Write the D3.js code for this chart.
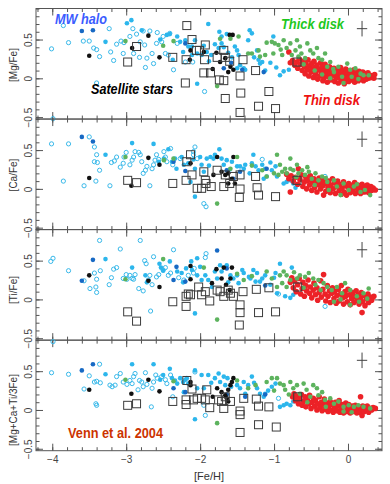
<!DOCTYPE html>
<html>
<head>
<meta charset="utf-8">
<script src="https://cdnjs.cloudflare.com/ajax/libs/d3/7.8.5/d3.min.js"></script>
<style>
  body { margin: 0; background: #fff; }
  svg { display: block; font-family: "Liberation Sans", Arial, sans-serif; }
</style>
</head>
<body>
<div id="chart"></div>
<script>
// tick values
var xMajor = [-4, -3, -2, -1, 0];
var yMajor = [-0.5, 0, 0.5];
var yLabels = ["[Mg/Fe]", "[Ca/Fe]", "[Ti/Fe]", "[Mg+Ca+Ti/3Fe]"];

// ---- [Mg/Fe] ----
var mgOpen = [[-3.85,0.68],[-4.01,0.38],[-3.78,0.46],[-3.58,0.48],[-3.50,0.48],[-3.44,0.39],[-3.40,0.37],[-3.36,0.28],[-3.23,0.64],[-3.21,0.34],[-3.17,0.23],[-3.13,0.44],[-3.07,0.48],[-3.03,0.46],[-3.04,0.32],[-2.95,0.54],[-2.91,0.64],[-2.90,0.32],[-2.86,0.57],[-2.82,0.27],[-2.81,0.47],[-2.77,0.61],[-2.75,0.43],[-2.72,0.26],[-2.74,0.14],[-2.68,0.61],[-2.65,0.32],[-2.63,0.19],[-2.59,0.45],[-2.58,0.59],[-2.52,0.47],[-2.50,0.54],[-2.47,0.32],[-2.43,0.30],[-2.41,0.58],[-2.36,0.11],[-2.31,0.45],[-2.20,0.21],[-3.40,-0.06],[-3.99,-0.52],[-2.10,0.21],[-1.94,-0.17]];
var mgCyan = [[-2.99,0.71],[-2.93,0.75],[-2.79,0.62],[-3.28,0.47],[-2.54,0.50],[-2.45,0.56],[-2.41,0.57],[-2.37,0.24],[-2.31,0.54],[-2.27,0.47],[-2.23,0.34],[-2.20,0.49],[-2.16,0.41],[-2.11,0.30],[-2.04,-0.07],[-1.89,0.70],[-1.74,0.60],[-1.71,0.54],[-1.64,0.57],[-2.07,0.49],[-2.11,0.41],[-2.04,0.32],[-1.98,0.30],[-1.91,0.34],[-1.85,0.30],[-1.75,0.39],[-1.71,0.45],[-1.53,0.41],[-1.50,0.36],[-1.48,0.30],[-1.46,0.17],[-1.41,0.13],[-1.39,0.11],[-1.50,0.13],[-1.35,0.49],[-1.30,0.58],[-1.33,0.62],[-1.23,0.36],[-1.21,0.24],[-1.19,0.19],[-1.16,0.21],[-1.12,0.10],[-1.01,0.54],[-0.92,0.04],[-0.87,0.09],[-0.80,0.11],[-1.80,0.44],[-1.68,0.40],[-1.62,0.33],[-1.57,0.27],[-1.95,0.42],[-1.88,0.22],[-1.27,0.27],[-1.05,0.20],[-0.97,0.14]];
var mgDark = [[-3.60,0.61],[-3.45,0.62],[-1.68,0.13],[-1.43,0.11],[-1.14,0.08],[-2.20,0.45],[-1.58,0.20]];
var mgBlack = [[-3.50,0.29],[-2.92,0.39],[-2.70,0.55],[-2.55,0.27],[-2.13,0.36],[-2.14,0.24],[-1.83,0.12],[-1.78,0.33],[-1.73,0.21],[-1.66,0.26],[-1.60,0.56],[-1.56,0.56],[-1.59,0.15],[-1.55,0.11],[-1.62,0.08],[-1.95,0.34]];
var mgGreen = [[-3.01,0.48],[-2.50,0.42],[-2.36,0.48],[-1.77,-0.10],[-1.73,0.51],[-1.59,0.51],[-1.48,0.54],[-1.35,0.32],[-1.30,0.32],[-1.21,0.36],[-1.19,0.28],[-1.12,0.30],[-1.10,0.46],[-1.03,0.47],[-0.99,0.45],[-1.01,0.32],[-0.94,0.43],[-0.91,0.37],[-0.89,0.30],[-0.87,0.49],[-0.83,0.39],[-0.78,0.45],[-0.76,0.30],[-0.71,0.36],[-0.69,0.49],[-0.67,0.28],[-0.65,0.41],[-0.63,0.32],[-0.58,0.26],[-0.55,0.45],[-0.51,0.36],[-0.47,0.32],[-0.42,0.39],[-0.40,0.26],[-0.35,0.24],[-0.31,0.32],[-0.28,0.15],[-0.24,0.21],[-0.19,0.08],[-0.13,0.15],[-0.08,0.02],[-0.01,0.19],[0.03,0.11],[0.10,0.13],[0.17,0.06],[0.21,0.04],[0.28,0.04],[-0.24,0.00],[-0.06,-0.06],[-0.45,0.10],[-0.35,0.05],[-0.60,0.18],[-0.20,0.12],[0.05,0.02],[0.14,-0.01]];
var mgRed = [[-0.80,0.34],[-0.78,0.20],[-0.75,0.23],[-0.72,0.17],[-0.69,0.21],[-0.68,0.13],[-0.66,0.25],[-0.64,0.18],[-0.62,0.10],[-0.61,0.22],[-0.59,0.15],[-0.58,0.06],[-0.57,0.20],[-0.55,0.11],[-0.54,0.24],[-0.53,0.03],[-0.52,0.16],[-0.50,0.08],[-0.49,0.19],[-0.48,0.12],[-0.47,0.01],[-0.46,0.22],[-0.45,0.14],[-0.44,0.05],[-0.43,0.09],[-0.42,0.17],[-0.41,-0.01],[-0.39,0.12],[-0.38,0.03],[-0.37,0.20],[-0.36,0.07],[-0.35,0.15],[-0.34,-0.03],[-0.33,0.10],[-0.32,0.01],[-0.31,0.18],[-0.30,0.05],[-0.29,0.12],[-0.28,-0.05],[-0.27,0.08],[-0.26,0.02],[-0.25,0.15],[-0.24,0.06],[-0.23,-0.02],[-0.22,0.10],[-0.21,0.04],[-0.19,0.13],[-0.18,-0.04],[-0.17,0.07],[-0.16,0.01],[-0.15,0.11],[-0.14,0.04],[-0.13,-0.06],[-0.12,0.08],[-0.11,0.00],[-0.10,0.14],[-0.09,0.05],[-0.08,-0.03],[-0.07,0.09],[-0.06,0.02],[-0.05,-0.07],[-0.04,0.06],[-0.03,0.12],[-0.02,-0.01],[-0.01,0.04],[0.00,0.08],[0.01,-0.04],[0.02,0.02],[0.03,0.10],[0.04,0.05],[0.05,-0.02],[0.06,0.07],[0.07,0.01],[0.08,0.11],[0.09,-0.05],[0.10,0.04],[0.11,0.08],[0.12,0.00],[0.13,0.06],[0.14,-0.03],[0.15,0.09],[0.16,0.03],[0.17,-0.01],[0.18,0.06],[0.19,0.02],[0.20,0.08],[0.21,-0.03],[0.22,0.04],[0.23,0.01],[0.24,0.06],[0.25,-0.01],[0.26,0.03],[0.27,0.07],[0.28,0.00],[0.30,0.04],[0.31,0.01],[0.33,0.03],[0.35,0.00],[0.36,0.05]];
var mgSq = [[-2.98,0.21],[-2.86,0.41],[-2.37,0.27],[-2.18,0.68],[-2.11,0.50],[-2.19,0.24],[-2.05,0.36],[-2.20,-0.06],[-2.01,0.36],[-1.93,0.43],[-1.94,0.24],[-1.95,0.07],[-1.86,0.07],[-1.77,0.27],[-1.68,0.36],[-1.66,0.27],[-1.60,0.22],[-1.42,0.24],[-1.74,-0.02],[-1.68,-0.03],[-1.46,0.03],[-1.25,0.10],[-1.45,-0.19],[-1.07,-0.17],[-1.66,-0.26],[-1.21,-0.36],[-0.98,-0.39],[-1.46,-0.44],[-0.69,0.21]];

// ---- [Ca/Fe] ----
var caOpen = [[-4.01,0.58],[-3.78,0.58],[-3.85,0.10],[-3.57,0.04],[-3.50,0.67],[-3.43,0.54],[-3.40,0.44],[-3.43,0.35],[-3.39,0.34],[-3.36,0.24],[-3.41,0.10],[-3.22,0.04],[-3.20,0.34],[-3.16,0.36],[-3.13,0.41],[-3.08,0.28],[-3.03,0.41],[-3.00,0.47],[-3.04,0.33],[-2.95,0.31],[-2.92,0.37],[-2.90,0.41],[-2.88,0.48],[-2.83,0.47],[-2.81,0.44],[-2.79,0.35],[-2.77,0.20],[-2.74,0.24],[-2.72,0.29],[-2.68,0.04],[-2.65,0.26],[-2.63,0.31],[-2.61,0.37],[-2.59,0.44],[-2.56,0.38],[-2.49,0.48],[-2.47,0.41],[-2.45,0.35],[-2.40,0.52],[-2.37,0.31],[-2.27,0.39],[-2.09,0.48],[-2.04,0.39],[-2.07,0.54],[-2.09,0.44],[-1.95,-0.19],[-1.92,-0.23],[-1.16,0.38],[-0.31,0.16]];
var caCyan = [[-3.28,0.44],[-2.92,0.59],[-2.63,0.58],[-2.56,0.35],[-2.49,0.39],[-2.43,0.51],[-2.38,0.35],[-2.34,0.39],[-2.32,0.26],[-2.25,0.41],[-2.22,0.31],[-2.16,0.33],[-2.13,0.09],[-2.07,-0.10],[-2.09,0.38],[-2.07,0.26],[-2.00,0.41],[-1.98,0.31],[-1.91,0.39],[-1.86,0.41],[-1.82,0.39],[-1.74,0.51],[-1.80,0.44],[-1.71,0.39],[-1.64,0.37],[-1.68,0.31],[-1.57,0.35],[-1.50,0.29],[-1.46,0.29],[-1.41,0.26],[-1.39,0.31],[-1.30,0.33],[-1.28,0.44],[-1.25,0.29],[-1.21,0.24],[-1.16,0.31],[-1.12,0.26],[-1.14,0.13],[-1.10,0.16],[-1.03,0.24],[-0.98,0.29],[-0.96,0.16],[-0.87,0.07],[-0.83,0.09],[-0.78,0.11],[-0.74,0.07],[-0.71,0.015],[-1.95,0.22],[-1.88,0.30],[-1.60,0.25],[-1.33,0.20],[-1.05,0.34]];
var caDark = [[-3.60,0.67],[-3.45,0.61],[-2.36,0.35],[-2.20,0.23],[-1.64,0.24],[-1.55,0.13],[-1.46,0.22],[-1.10,0.26]];
var caBlack = [[-3.50,0.14],[-2.93,0.04],[-2.70,0.40],[-2.55,0.31],[-2.13,0.33],[-1.77,0.41],[-1.71,0.22],[-1.66,0.18],[-1.62,0.20],[-1.57,0.13],[-1.62,0.07],[-1.55,0.41],[-1.82,0.18],[-1.53,0.07]];
var caGreen = [[-3.01,0.41],[-2.49,0.37],[-2.36,0.39],[-1.77,-0.19],[-1.50,0.41],[-1.59,0.26],[-1.16,0.24],[-1.10,0.16],[-0.96,0.44],[-0.78,0.39],[-0.92,0.31],[-0.89,0.22],[-0.94,0.18],[-0.85,0.26],[-0.83,0.20],[-0.78,0.26],[-0.74,0.24],[-0.69,0.31],[-0.67,0.20],[-0.62,0.24],[-0.58,0.18],[-0.53,0.22],[-0.49,0.13],[-0.44,0.20],[-0.40,0.11],[-0.35,0.16],[-0.28,0.09],[-0.19,0.11],[-0.15,0.03],[-0.06,0.07],[0.01,-0.015],[0.08,0.03],[0.17,-0.04],[0.23,-0.015],[0.30,-0.08],[-0.26,-0.015],[-0.10,-0.08],[-1.30,0.30],[-1.00,0.20],[-0.70,0.15],[-0.45,0.05],[-0.30,0.14],[0.12,0.06],[-0.55,0.28]];
var caRed = [[-0.83,0.19],[-0.80,0.13],[-0.77,0.17],[-0.74,0.10],[-0.71,0.15],[-0.67,0.26],[-0.68,0.06],[-0.65,0.12],[-0.63,0.18],[-0.61,0.03],[-0.59,0.09],[-0.57,0.15],[-0.56,0.00],[-0.54,0.11],[-0.52,0.05],[-0.51,0.17],[-0.49,-0.02],[-0.48,0.08],[-0.46,0.13],[-0.45,0.02],[-0.43,0.10],[-0.42,-0.04],[-0.40,0.06],[-0.39,0.14],[-0.37,0.00],[-0.36,0.09],[-0.34,0.04],[-0.33,-0.08],[-0.32,0.12],[-0.30,-0.03],[-0.29,0.07],[-0.27,0.02],[-0.26,0.10],[-0.24,-0.05],[-0.23,0.05],[-0.21,0.13],[-0.20,0.00],[-0.18,0.08],[-0.17,-0.06],[-0.15,0.03],[-0.14,0.10],[-0.12,-0.02],[-0.11,0.06],[-0.09,-0.07],[-0.08,0.01],[-0.06,0.09],[-0.05,-0.04],[-0.03,0.04],[-0.02,-0.08],[0.00,0.02],[0.01,0.07],[0.03,-0.05],[0.04,0.00],[0.06,0.05],[0.07,-0.03],[0.09,0.08],[0.10,-0.06],[0.11,0.02],[0.13,0.05],[0.14,-0.02],[0.16,0.03],[0.17,-0.06],[0.19,0.06],[0.20,0.00],[0.22,-0.04],[0.23,0.03],[0.25,-0.01],[0.26,0.05],[0.28,-0.05],[0.29,0.01],[0.31,0.03],[0.32,-0.02],[0.34,0.01],[0.37,-0.015],[-0.78,-0.04]];
var caSq = [[-2.98,0.11],[-2.86,0.08],[-2.37,0.07],[-2.19,0.11],[-2.18,0.35],[-2.11,0.18],[-2.04,0.007],[-2.13,0.44],[-1.98,0.007],[-1.95,0.22],[-1.93,0.11],[-1.92,0.07],[-1.85,0.03],[-1.77,0.24],[-1.68,0.03],[-1.66,0.18],[-1.60,0.07],[-1.55,0.16],[-1.46,0.18],[-1.46,-0.002],[-1.47,-0.11],[-1.25,0.16],[-1.23,0.015],[-1.21,-0.08],[-0.98,-0.10],[-0.69,0.11]];

// ---- [Ti/Fe] ----
var tiOpen = [[-4.02,0.49],[-3.99,0.53],[-3.78,0.37],[-3.57,0.24],[-3.49,0.14],[-3.43,0.34],[-3.36,0.76],[-3.40,0.26],[-3.41,0.16],[-3.40,0.09],[-3.35,0.37],[-3.23,0.19],[-3.20,0.28],[-3.17,0.39],[-3.13,0.41],[-3.08,0.65],[-3.04,0.27],[-3.00,0.32],[-2.99,0.26],[-2.95,0.31],[-2.92,0.27],[-2.90,0.26],[-2.88,0.32],[-2.83,0.14],[-2.81,0.76],[-2.77,0.11],[-2.75,0.50],[-2.73,0.46],[-2.70,0.25],[-2.68,0.31],[-2.65,0.19],[-2.67,-0.15],[-2.63,0.55],[-2.59,0.29],[-2.56,0.32],[-2.50,0.38],[-2.47,0.41],[-2.43,0.31],[-2.40,0.34],[-2.36,0.64],[-2.29,0.28],[-2.22,0.25],[-2.16,0.31],[-2.09,0.34],[-1.93,0.54],[-1.92,0.59],[-2.08,0.40],[-0.94,0.07],[-0.31,-0.09]];
var tiCyan = [[-3.28,0.52],[-2.92,0.41],[-2.74,0.31],[-2.72,0.22],[-2.55,0.46],[-2.53,0.41],[-2.50,0.37],[-2.41,0.49],[-2.31,0.36],[-2.25,0.34],[-2.23,0.22],[-2.19,0.40],[-2.12,0.49],[-2.07,-0.18],[-2.04,0.53],[-2.11,0.38],[-2.04,0.31],[-1.98,0.25],[-1.93,0.31],[-1.89,0.25],[-1.84,0.16],[-1.77,0.27],[-1.73,0.44],[-1.71,0.36],[-1.64,0.44],[-1.59,0.31],[-1.55,0.27],[-1.50,0.31],[-1.48,0.21],[-1.43,0.38],[-1.41,0.34],[-1.34,0.29],[-1.32,0.27],[-1.28,0.38],[-1.25,0.23],[-1.23,0.34],[-1.19,0.23],[-1.16,0.27],[-1.12,0.31],[-1.05,0.19],[-1.00,0.28],[-0.98,0.34],[-0.96,0.08],[-0.92,0.46],[-0.85,0.04],[-0.78,0.02],[-0.76,0.41],[-0.74,0.06],[-2.00,0.42],[-1.80,0.36],[-1.62,0.22]];
var tiDark = [[-3.60,0.24],[-3.45,0.51],[-2.32,0.42],[-2.36,0.25],[-2.20,0.23],[-1.77,0.63],[-1.64,0.40],[-1.12,0.18]];
var tiBlack = [[-3.50,0.31],[-2.70,0.24],[-2.55,0.16],[-2.13,0.43],[-2.13,0.26],[-1.78,0.39],[-1.68,0.41],[-1.71,0.27],[-1.65,0.19],[-1.59,0.27],[-1.57,0.41],[-1.84,0.21],[-1.60,0.12]];
var tiGreen = [[-3.01,0.26],[-2.50,0.52],[-1.77,-0.26],[-1.95,0.41],[-1.41,0.25],[-1.10,0.36],[-1.03,0.27],[-0.92,0.31],[-0.87,0.36],[-0.83,0.31],[-0.78,0.25],[-0.69,0.27],[-0.65,0.31],[-0.58,0.29],[-0.53,0.34],[-0.47,0.27],[-0.44,0.19],[-0.40,0.25],[-0.37,0.12],[-0.33,0.21],[-0.28,0.16],[-0.22,0.12],[-0.15,0.16],[-0.08,0.08],[-0.04,0.21],[0.03,0.12],[0.12,0.04],[0.21,0.08],[0.28,0.14],[0.26,0.01],[0.03,-0.07],[-0.19,-0.03],[-0.96,0.16],[-0.89,0.21],[-0.83,0.16],[-1.30,0.30],[-1.50,0.33],[-0.60,0.15],[-0.10,0.00],[0.15,-0.03],[-0.73,0.35]];
var tiRed = [[-0.78,0.22],[-0.76,0.28],[-0.74,0.15],[-0.72,0.24],[-0.70,0.10],[-0.68,0.19],[-0.66,0.27],[-0.64,0.07],[-0.62,0.14],[-0.61,0.22],[-0.59,0.04],[-0.57,0.18],[-0.56,0.11],[-0.54,0.25],[-0.52,0.08],[-0.51,0.16],[-0.49,0.02],[-0.47,0.12],[-0.46,0.21],[-0.44,0.06],[-0.42,0.15],[-0.41,-0.01],[-0.39,0.09],[-0.37,0.24],[-0.36,0.03],[-0.34,0.13],[-0.33,0.32],[-0.31,0.07],[-0.30,-0.02],[-0.28,0.18],[-0.27,0.04],[-0.25,0.11],[-0.24,-0.04],[-0.22,0.08],[-0.21,0.15],[-0.19,0.01],[-0.18,0.10],[-0.16,-0.05],[-0.15,0.05],[-0.13,0.13],[-0.12,-0.02],[-0.10,0.07],[-0.09,0.18],[-0.07,0.02],[-0.06,-0.06],[-0.04,0.10],[-0.03,0.04],[-0.01,-0.03],[0.00,0.13],[0.02,0.06],[0.03,-0.07],[0.05,0.01],[0.06,0.09],[0.08,-0.04],[0.09,0.04],[0.11,0.11],[0.12,-0.01],[0.14,0.06],[0.15,-0.06],[0.17,0.02],[0.18,0.09],[0.19,-0.17],[0.20,-0.03],[0.22,0.05],[0.23,-0.08],[0.25,0.01],[0.27,0.07],[0.28,-0.04],[0.30,0.03],[0.32,-0.01],[0.35,0.04],[0.33,0.02]];
var tiSq = [[-2.98,-0.16],[-2.86,-0.28],[-2.37,-0.03],[-2.19,-0.09],[-2.19,0.04],[-2.16,0.07],[-2.13,0.06],[-2.02,0.16],[-1.98,0.06],[-1.93,0.10],[-1.87,-0.02],[-1.77,0.12],[-1.73,0.10],[-1.68,0.04],[-1.62,0.12],[-1.59,0.08],[-1.55,0.04],[-1.42,0.10],[-1.46,-0.07],[-1.46,-0.17],[-1.47,-0.33],[-1.24,0.13],[-1.21,-0.17],[-1.07,0.15],[-0.98,-0.16],[-0.68,0.16]];

// ---- [Mg+Ca+Ti/3Fe] ----
var avOpen = [[-4.01,0.48],[-3.99,0.88],[-3.78,0.46],[-3.57,0.27],[-3.50,0.44],[-3.43,0.36],[-3.40,0.37],[-3.36,0.59],[-3.35,0.35],[-3.41,0.08],[-3.40,0.06],[-3.22,0.32],[-3.19,0.30],[-3.15,0.32],[-3.13,0.43],[-3.08,0.47],[-3.04,0.36],[-2.99,0.33],[-2.95,0.38],[-2.92,0.34],[-2.90,0.43],[-2.88,0.47],[-2.84,0.26],[-2.82,0.38],[-2.79,0.36],[-2.77,0.30],[-2.74,0.48],[-2.72,0.33],[-2.65,0.28],[-2.66,0.04],[-2.63,0.36],[-2.60,0.45],[-2.58,0.41],[-2.52,0.43],[-2.47,0.39],[-2.45,0.34],[-2.40,0.45],[-2.37,0.17],[-2.07,0.49],[-1.93,-0.07],[-1.95,0.06],[-0.94,0.15]];
var avCyan = [[-3.28,0.46],[-2.92,0.59],[-2.63,0.59],[-2.54,0.39],[-2.41,0.53],[-2.38,0.41],[-2.34,0.38],[-2.31,0.34],[-2.27,0.41],[-2.23,0.36],[-2.20,0.39],[-2.18,0.41],[-2.16,0.34],[-2.07,-0.12],[-2.22,0.23],[-2.50,0.45],[-2.07,0.51],[-1.98,0.45],[-1.95,0.28],[-1.89,0.45],[-1.80,0.41],[-1.75,0.47],[-1.73,0.36],[-1.68,0.43],[-1.66,0.32],[-1.63,0.41],[-1.50,0.32],[-1.46,0.28],[-1.41,0.36],[-1.39,0.21],[-1.35,0.32],[-1.30,0.43],[-1.23,0.28],[-1.19,0.21],[-1.14,0.17],[-1.12,0.21],[-1.03,0.30],[-0.98,0.34],[-0.92,0.04],[-0.87,0.06],[-0.83,0.08],[-0.78,0.06],[-0.74,0.11],[-2.04,0.28],[-1.85,0.35],[-1.58,0.30],[-1.27,0.35],[-1.08,0.25]];
var avDark = [[-3.60,0.51],[-3.45,0.59],[-2.36,0.28],[-2.20,0.23],[-1.39,0.17],[-1.64,0.20],[-1.12,0.20]];
var avBlack = [[-3.50,0.26],[-2.93,0.21],[-2.70,0.39],[-2.55,0.24],[-2.13,0.32],[-2.13,0.36],[-1.83,0.17],[-1.77,0.28],[-1.71,0.23],[-1.66,0.19],[-1.62,0.26],[-1.59,0.32],[-1.57,0.36],[-1.55,0.41],[-1.62,0.11],[-1.64,0.15]];
var avGreen = [[-3.01,0.39],[-2.36,0.37],[-1.77,-0.17],[-1.25,0.32],[-1.10,0.36],[-1.03,0.41],[-0.96,0.41],[-0.92,0.34],[-0.87,0.32],[-0.85,0.26],[-0.78,0.36],[-0.74,0.28],[-0.69,0.32],[-0.65,0.21],[-0.60,0.34],[-0.56,0.26],[-0.51,0.17],[-0.47,0.32],[-0.42,0.28],[-0.40,0.19],[-0.35,0.23],[-0.31,0.13],[-0.24,0.15],[-0.19,0.08],[-0.13,0.11],[-0.06,0.04],[0.01,0.06],[0.08,0.04],[0.14,0.06],[0.21,0.04],[0.30,0.02],[-0.06,-0.02],[-1.50,0.38],[-1.35,0.28],[-1.00,0.25],[-0.55,0.10],[-0.30,0.04],[0.05,-0.03],[-0.80,0.20]];
var avRed = [[-0.75,0.17],[-0.73,0.21],[-0.71,0.12],[-0.69,0.18],[-0.67,0.08],[-0.65,0.14],[-0.63,0.20],[-0.62,0.06],[-0.60,0.11],[-0.58,0.17],[-0.57,0.04],[-0.55,0.13],[-0.53,0.08],[-0.52,0.19],[-0.50,0.02],[-0.49,0.10],[-0.47,0.15],[-0.45,0.05],[-0.44,0.12],[-0.42,0.00],[-0.41,0.08],[-0.39,0.17],[-0.38,0.03],[-0.36,0.10],[-0.35,-0.01],[-0.33,0.06],[-0.32,0.14],[-0.30,0.01],[-0.29,0.09],[-0.27,-0.02],[-0.26,0.05],[-0.24,0.11],[-0.23,0.00],[-0.21,0.07],[-0.20,-0.03],[-0.18,0.03],[-0.17,0.10],[-0.15,-0.01],[-0.14,0.05],[-0.12,0.12],[-0.11,-0.03],[-0.09,0.02],[-0.08,0.07],[-0.06,-0.04],[-0.05,0.04],[-0.03,0.09],[-0.02,-0.02],[0.00,0.03],[0.01,0.07],[0.03,-0.04],[0.04,0.01],[0.06,0.05],[0.07,-0.02],[0.09,0.02],[0.10,0.06],[0.12,-0.04],[0.13,0.01],[0.15,0.04],[0.16,-0.03],[0.17,0.17],[0.18,0.02],[0.19,-0.07],[0.20,0.05],[0.22,-0.02],[0.23,0.03],[0.25,0.00],[0.26,0.05],[0.28,-0.03],[0.30,0.02],[0.32,0.00],[0.34,0.03],[0.37,0.02]];
var avSq = [[-2.98,0.06],[-2.86,0.08],[-2.37,0.11],[-2.19,0.07],[-2.19,0.13],[-2.18,0.38],[-2.11,0.27],[-2.04,0.15],[-2.09,0.13],[-1.98,0.15],[-1.93,0.13],[-1.91,0.26],[-1.87,0.03],[-1.75,0.13],[-1.71,0.11],[-1.68,0.02],[-1.66,0.17],[-1.59,0.11],[-1.46,-0.014],[-1.46,-0.06],[-1.46,-0.29],[-1.24,0.14],[-1.21,-0.19],[-1.21,0.05],[-1.07,0.04],[-0.97,-0.22],[-0.68,0.17],[-1.41,0.15]];

// typical error bar: [Fe/H], [X/Fe], half sizes
var errBar = {x: 0.19, y: 0.64, dx: 0.07, dy: 0.1};

var panels = [
  {open: mgOpen, cyan: mgCyan, dark: mgDark, black: mgBlack, green: mgGreen, red: mgRed, sq: mgSq, labelY: 65},
  {open: caOpen, cyan: caCyan, dark: caDark, black: caBlack, green: caGreen, red: caRed, sq: caSq, labelY: 175},
  {open: tiOpen, cyan: tiCyan, dark: tiDark, black: tiBlack, green: tiGreen, red: tiRed, sq: tiSq, labelY: 290},
  {open: avOpen, cyan: avCyan, dark: avDark, black: avBlack, green: avGreen, red: avRed, sq: avSq, labelY: 410}
];

var W = 390, H = 484;
var left = 36, right = 382, top0 = 8.5, ph = 110.55;

var svg = d3.select("#chart").append("svg")
  .attr("width", W).attr("height", H);

var x = d3.scaleLinear().domain([-4.22, 0.46]).range([left, right]);
var xMinor = d3.range(-4.2, 0.41, 0.2).map(function(v) { return Math.round(v * 10) / 10; });
var yMinor = d3.range(-0.5, 0.91, 0.1).map(function(v) { return Math.round(v * 10) / 10; });

panels.forEach(function(p, i) {
  var t = top0 + i * ph, b = t + ph;
  var y = d3.scaleLinear().domain([-0.525, 0.9]).range([b, t]);
  var g = svg.append("g");

  // minor + major ticks on four sides, all pointing inward
  function ticks(axis, vals, size, tr) {
    var a = g.append("g").attr("transform", tr)
      .call(axis.tickValues(vals).tickSize(-size).tickFormat(""));
    a.select(".domain").remove();
    a.selectAll(".tick line").attr("stroke", "#555");
    return a;
  }
  ticks(d3.axisBottom(x), xMinor, 3.5, "translate(0," + b + ")");
  ticks(d3.axisTop(x), xMinor, 3.5, "translate(0," + t + ")");
  ticks(d3.axisBottom(x), xMajor, 7, "translate(0," + b + ")");
  ticks(d3.axisTop(x), xMajor, 7, "translate(0," + t + ")");
  ticks(d3.axisLeft(y), yMinor, 3.5, "translate(" + left + ",0)");
  ticks(d3.axisRight(y), yMinor, 3.5, "translate(" + right + ",0)");
  ticks(d3.axisRight(y), yMajor, 7, "translate(" + right + ",0)");

  // left major ticks with rotated labels
  var ya = g.append("g").attr("transform", "translate(" + left + ",0)")
    .call(d3.axisLeft(y).tickValues(yMajor).tickSize(-7).tickFormat(d3.format("")));
  ya.select(".domain").remove();
  ya.selectAll(".tick line").attr("stroke", "#555");
  ya.selectAll(".tick text")
    .attr("x", null).attr("dy", null)
    .attr("text-anchor", "middle")
    .attr("transform", "translate(-4,0) rotate(-90)")
    .attr("fill", "#444")
    .style("font-size", "10px");

  if (i === panels.length - 1) {
    var xa = g.append("g").attr("transform", "translate(0," + b + ")")
      .call(d3.axisBottom(x).tickValues(xMajor).tickSize(0).tickPadding(5).tickFormat(d3.format("")));
    xa.select(".domain").remove();
    xa.selectAll(".tick text").attr("fill", "#444").style("font-size", "10px");
  }

  // frame
  g.append("rect")
    .attr("x", left).attr("y", t).attr("width", right - left).attr("height", ph)
    .attr("fill", "none").attr("stroke", "#555").attr("stroke-width", 1);

  // y label
  g.append("text")
    .attr("transform", "translate(17," + p.labelY + ") rotate(-90)")
    .attr("text-anchor", "middle")
    .attr("fill", "#333")
    .style("font-size", "10px")
    .text(yLabels[i]);

  // stars
  function dots(data, r, fill, stroke) {
    g.append("g").selectAll("circle")
      .data(data).enter().append("circle")
        .attr("cx", function(d) { return x(d[0]); })
        .attr("cy", function(d) { return y(d[1]); })
        .attr("r", r)
        .attr("fill", fill)
        .attr("stroke", stroke || "none")
        .attr("stroke-width", 1);
  }
  dots(p.open, 2.1, "none", "#39b9ea");
  dots(p.cyan, 2.3, "#2cb6ec");
  dots(p.dark, 2.3, "#1769c4");
  dots(p.black, 2.3, "#111");
  dots(p.red, 2.8, "#ec2227");
  dots(p.green, 2.3, "#5db35e");

  g.append("g").selectAll("rect")
    .data(p.sq).enter().append("rect")
      .attr("x", function(d) { return x(d[0]) - 4; })
      .attr("y", function(d) { return y(d[1]) - 4; })
      .attr("width", 8).attr("height", 8)
      .attr("fill", "none")
      .attr("stroke", "#3c3c3c")
      .attr("stroke-width", 1);

  // error cross
  g.append("line")
    .attr("x1", x(errBar.x - errBar.dx)).attr("x2", x(errBar.x + errBar.dx))
    .attr("y1", y(errBar.y)).attr("y2", y(errBar.y))
    .attr("stroke", "#444");
  g.append("line")
    .attr("x1", x(errBar.x)).attr("x2", x(errBar.x))
    .attr("y1", y(errBar.y - errBar.dy)).attr("y2", y(errBar.y + errBar.dy))
    .attr("stroke", "#444");
});

// x label
svg.append("text")
  .attr("x", 209).attr("y", 480)
  .attr("text-anchor", "middle")
  .attr("fill", "#333")
  .style("font-size", "11px")
  .text("[Fe/H]");

// annotations
function note(txt, x0, yb, w, size, color, fam) {
  svg.append("text")
    .attr("x", x0).attr("y", yb)
    .attr("textLength", w).attr("lengthAdjust", "spacingAndGlyphs")
    .attr("fill", color)
    .style("font-family", fam || "'Liberation Sans', Arial, sans-serif")
    .style("font-weight", "bold")
    .style("font-style", fam ? "normal" : "italic")
    .style("font-size", size + "px")
    .text(txt);
}
note("MW halo", 55, 24, 52, 14, "#3b5cff");
note("Thick disk", 281, 29, 63, 14, "#1ec81e");
note("Satellite stars", 91, 94, 82, 14, "#000");
note("Thin disk", 303, 105, 57, 14, "#ee1111");
note("Venn et al. 2004", 68, 437.5, 95, 15, "#cc3300", "'Liberation Sans Narrow', 'Liberation Sans', Arial, sans-serif");
</script>
</body>
</html>
